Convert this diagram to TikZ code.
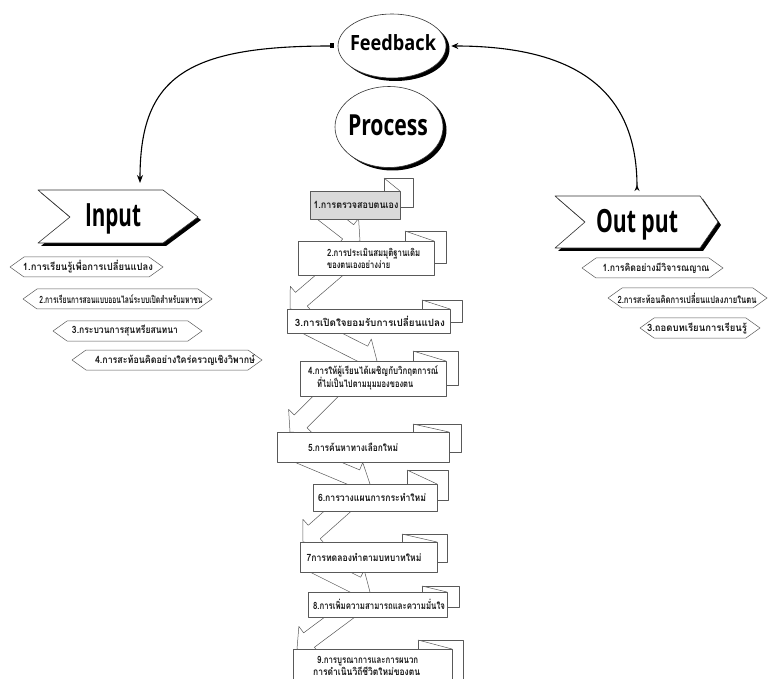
\documentclass[tikz,border=0pt]{standalone}
\usepackage{fontspec}
\usepackage{graphicx}
\usetikzlibrary{calc,arrows.meta,shadows,shapes.geometric}
\newfontfamily\thaif[Script=Thai]{Loma}
\newfontfamily\latf{Open Sans}
\newcommand{\tw}[2]{\resizebox{#1pt}{\height}{\thaif\bfseries\fontsize{10}{12}\selectfont #2}}
\newcommand{\bigtxt}[3]{\resizebox{#1pt}{\height}{\latf\bfseries\fontsize{#2}{#2}\selectfont #3}}
\tikzset{
 conn/.style={line width=1.1pt, black},
 ell/.style={ellipse, draw=black!80, line width=0.6pt, fill=white, inner sep=0pt,
   general shadow={fill=black, shadow xshift=3.5pt, shadow yshift=-3pt}},
 chev/.style={draw=black!80, line width=0.6pt, fill=white,
   general shadow={fill=black, shadow xshift=3pt, shadow yshift=-3pt}},
 hexs/.style={draw=black!65, line width=0.5pt, fill=white},
 flaps/.style={draw=black!65, line width=0.5pt, fill=white},
 arrs/.style={draw=black!65, line width=0.5pt, fill=white},
 pbox/.style={draw=black!65, line width=0.5pt, fill=white, inner sep=0pt},
 ttext/.style={text=black!90, inner sep=0pt},
 big/.style={inner sep=0pt, text=black}
}
\newcommand{\hexa}[7]{%
 \draw[hexs] (#2,#4) -- ({#2+14},{#4-10}) -- ({#3-14},{#4-10}) -- (#3,#4) -- ({#3-14},{#4+10}) -- ({#2+14},{#4+10}) -- cycle;
 \node[ttext] (#1) at (#5,#4) {\tw{#6}{#7}};}
\newcommand{\pflap}[6]{\draw[flaps] (#1,#2) rectangle (#3,#4); \draw[flaps] (#1,#2) -- (#5,#6);}
\newcommand{\parr}[2]{%
 \coordinate (aH) at ($(#2)!15pt!(#1)$);
 \filldraw[arrs] ($(#1)!9pt!90:(#2)$) -- ($(aH)!9pt!90:(#2)$) -- ($(aH)!17pt!90:(#2)$) -- (#2)
   -- ($(aH)!17pt!-90:(#2)$) -- ($(aH)!9pt!-90:(#2)$) -- ($(#1)!9pt!-90:(#2)$) -- cycle;}
\begin{document}
\begin{tikzpicture}[x=1pt,y=-1pt,line join=round]
\useasboundingbox (0,0) rectangle (769,679);
\fill[white] (0,0) rectangle (769,679);

% Feedback and Process
\node[ell, minimum width=108pt, minimum height=64pt] (fb) at (392,46) {};
\node[big, anchor=base] (fbt) at (393,51) {\bigtxt{86}{21}{Feedback}};
\node[ell, minimum width=108pt, minimum height=81pt] (proc) at (389,127) {};
\node[big, anchor=base] (proct) at (388,136) {\bigtxt{80}{29}{Process}};

% Input / Output chevrons
\draw[chev] (38,190) -- (163,190) -- (198,217) -- (163,243) -- (38,243) -- (70,217) -- cycle;
\node[big, anchor=base] (inpt) at (113,227) {\bigtxt{56}{32}{Input}};
\coordinate (inp) at (140,183);
\draw[chev] (555,196) -- (700,196) -- (718,222) -- (700,248) -- (555,248) -- (585,222) -- cycle;
\node[big, anchor=base] (outt) at (637,233) {\bigtxt{82}{32}{Out put}};
\coordinate (outp) at (637,191);

% feedback connectors
\draw[conn, {Square[length=4pt,width=5pt]}-{Stealth[length=8pt,width=6pt]}, shorten <=4pt]
  (fb.west) .. controls (185,46) and (140,78) .. (inp);
\draw[conn, {Stealth[length=6pt,width=5pt,reversed]}-{Stealth[length=7pt,width=6pt]}, shorten >=5pt]
  (outp) .. controls (637,100) and (588,46) .. (fb.east);

% input items
\hexa{i1}{10}{163}{267}{88}{130}{1.การเรียนรู้เพื่อการเปลี่ยนแปลง}
\hexa{i2}{23}{212}{299}{121}{163}{2.การเรียนการสอนแบบออนไลน์ระบบเปิดสำหรับมหาชน}
\hexa{i3}{53}{202}{331}{125}{106}{3.กระบวนการสุนทรียสนทนา}
\hexa{i4}{72}{262}{360}{175}{160}{4.การสะท้อนคิดอย่างใคร่ครวญเชิงวิพากษ์}
% output items
\hexa{o1}{582}{723}{268}{656}{107}{1.การคิดอย่างมีวิจารณญาณ}
\hexa{o2}{608}{767}{298}{687}{139}{2.การสะท้อนคิดการเปลี่ยนแปลงภายในตน}
\hexa{o3}{640}{760}{328}{697}{100}{3.ถอดบทเรียนการเรียนรู้}

% process flaps
\pflap{384}{178}{413}{207}{400}{191}
\pflap{405}{231}{446}{263}{434}{241}
\pflap{422}{300}{462}{322}{450}{309}
\pflap{413}{351}{458}{385}{446}{361}
\pflap{413}{424}{461}{452}{449}{432}
\pflap{407}{470}{448}{500}{437}{484}
\pflap{402}{534}{447}{562}{437}{542}
\pflap{422}{586}{459}{607}{447}{592}
\pflap{418}{640}{463}{690}{452}{649}

% process arrows
\coordinate (a12s) at (320,210); \coordinate (a12t) at (360,241);
\coordinate (a23s) at (340,266); \coordinate (a23t) at (290,309);
\coordinate (a34s) at (304,324); \coordinate (a34t) at (377,361);
\coordinate (a45s) at (335,387); \coordinate (a45t) at (290,432);
\coordinate (a56s) at (296,453); \coordinate (a56t) at (370,484);
\coordinate (a67s) at (348,502); \coordinate (a67t) at (303,542);
\coordinate (a78s) at (312,563); \coordinate (a78t) at (370,592);
\coordinate (a89s) at (352,608); \coordinate (a89t) at (297,649);
\parr{a12s}{a12t}
\parr{a23s}{a23t}
\parr{a34s}{a34t}
\parr{a45s}{a45t}
\parr{a56s}{a56t}
\parr{a67s}{a67t}
\parr{a78s}{a78t}
\parr{a89s}{a89t}

% process boxes
\node[pbox, fill=black!15, minimum width=90pt, minimum height=28pt] (p1) at (355,205) {};
\node[pbox, minimum width=136pt, minimum height=34pt] (p2) at (366,258) {};
\node[pbox, minimum width=163pt, minimum height=24pt] (p3) at (368.5,321) {};
\node[pbox, minimum width=146pt, minimum height=35pt] (p4) at (373,378.5) {};
\node[pbox, minimum width=172pt, minimum height=30pt] (p5) at (363,447) {};
\node[pbox, minimum width=124pt, minimum height=27pt] (p6) at (375,497.5) {};
\node[pbox, minimum width=137pt, minimum height=30pt] (p7) at (368.5,557) {};
\node[pbox, minimum width=139pt, minimum height=25pt] (p8) at (377.5,604.5) {};
\node[pbox, minimum width=159pt, minimum height=50pt] (p9) at (372.5,674) {};

\node[ttext] (p1t) at (356,205) {\tw{85}{1.การตรวจสอบตนเอง}};
\node[ttext, align=left, anchor=west] (p2t) at (327,258) {\tw{93}{2.การประเมินสมมุติฐานเดิม}\\\tw{63}{ของตนเองอย่างง่าย}};
\node[ttext] (p3t) at (370,321) {\tw{150}{3.การเปิดใจยอมรับการเปลี่ยนแปลง}};
\node[ttext, align=left, anchor=west] (p4t) at (308,378) {\tw{130}{4.การให้ผู้เรียนได้เผชิญกับวิกฤตการณ์}\\\hspace{9pt}\tw{96}{ที่ไม่เป็นไปตามมุมมองของตน}};
\node[ttext] (p5t) at (353,447) {\tw{90}{5.การค้นหาทางเลือกใหม่}};
\node[ttext] (p6t) at (372,497) {\tw{108}{6.การวางแผนการกระทำใหม่}};
\node[ttext] (p7t) at (364,557) {\tw{115}{7การทดลองทำตามบทบาทใหม่}};
\node[ttext] (p8t) at (379,604) {\tw{132}{8.การเพิ่มความสามารถและความมั่นใจ}};
\node[ttext, align=left, anchor=west] (p9t) at (313,666) {\hspace{4pt}\tw{101}{9.การบูรณาการและการผนวก}\\\tw{107}{การดำเนินวิถีชีวิตใหม่ของตน}};
\end{tikzpicture}
\end{document}
